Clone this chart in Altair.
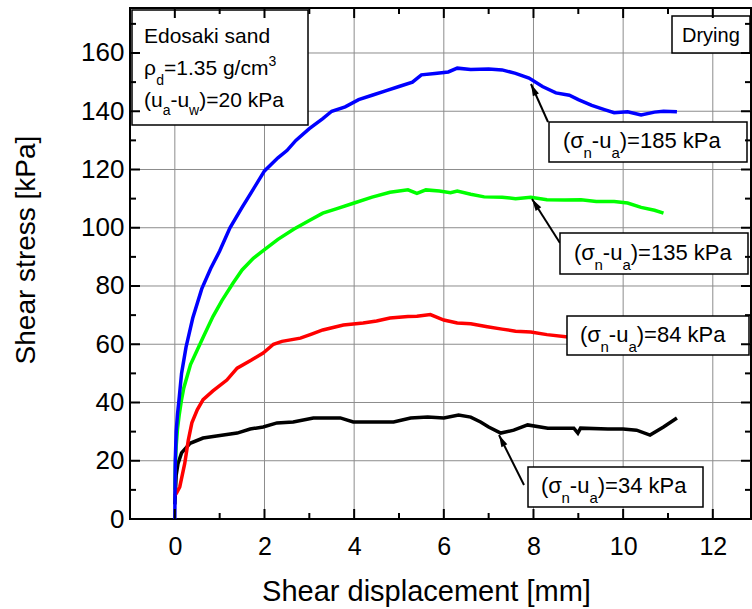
import math
import altair as alt
import pandas as pd

# ---------------- data ----------------
blue_x = [0, 0.005, 0.01, 0.03, 0.06, 0.1, 0.15, 0.25, 0.4, 0.6, 0.8, 1.0, 1.23, 1.5, 1.7, 2.0,
          2.3, 2.5, 2.7, 3.0, 3.3, 3.5, 3.8, 4.1, 4.4, 4.7, 5.0, 5.3, 5.5, 5.8, 6.1, 6.3, 6.6, 7.0,
          7.3, 7.6, 7.9, 8.2, 8.5, 8.8, 9.0, 9.3, 9.6, 9.8, 10.1, 10.4, 10.7, 10.9, 11.2]
blue_y = [0, 12, 20, 30, 36, 42, 50, 59, 69, 79, 86, 92, 100, 107, 112, 119.5,
          124, 126.5, 130, 134, 137.5, 140, 141.5, 144, 145.5, 147, 148.5, 150, 152.5, 153, 153.5, 154.8, 154.3, 154.5,
          154.2, 153, 151.4, 148.5, 146.3, 145.5, 144, 142, 140.5, 139.5, 139.8, 138.7, 139.7, 140, 139.8]

green_x = [0, 0.01, 0.03, 0.06, 0.1, 0.15, 0.2, 0.35, 0.5, 0.65, 0.85, 1.05, 1.3, 1.5, 1.75, 2.0,
           2.3, 2.65, 3.0, 3.3, 3.6, 4.0, 4.4, 4.8, 5.2, 5.4, 5.6, 5.9, 6.15, 6.3, 6.6, 6.9, 7.3,
           7.6, 7.94, 8.3, 8.7, 9.06, 9.4, 9.8, 10.1, 10.4, 10.7, 10.9]
green_y = [10, 18, 25, 31, 36, 41, 45, 53, 58, 63, 69.5, 75, 81, 85.5, 89.5, 92.5,
           96, 99.5, 102.5, 105, 106.5, 108.5, 110.5, 112.2, 113, 111.8, 113, 112.6, 112, 112.6, 111.5, 110.6, 110.5,
           110, 110.5, 109.6, 109.5, 109.6, 109, 109, 108.5, 107, 106, 105]

red_x = [0, 0.04, 0.11, 0.22, 0.3, 0.38, 0.5, 0.63, 0.85, 1.16, 1.39, 1.7, 1.97, 2.2, 2.39, 2.8,
         3.05, 3.3, 3.76, 4.2, 4.5, 4.8, 5.2, 5.4, 5.7, 6.0, 6.3, 6.6, 6.97, 7.3, 7.6, 7.94, 8.3, 8.77]
red_y = [8, 9, 11, 19, 27, 33, 37.5, 41, 44, 47.7, 51.8, 54.5, 57, 60, 61, 62.1,
         63.5, 64.9, 66.6, 67.3, 68, 69, 69.5, 69.6, 70.2, 68.3, 67.3, 67, 66, 65.2, 64.5, 64.2, 63.3, 62.5]

black_x = [0, 0.03, 0.07, 0.15, 0.34, 0.63, 0.93, 1.39, 1.68, 1.97, 2.28, 2.64, 3.09, 3.69, 3.98,
           4.52, 4.88, 5.26, 5.64, 6.0, 6.33, 6.6, 6.82, 7.0, 7.27, 7.56, 7.87, 8.32, 8.9, 8.99,
           9.05, 9.66, 10.0, 10.3, 10.6, 10.9, 11.2]
black_y = [5, 15, 19, 22.7, 26, 27.8, 28.5, 29.5, 30.9, 31.6, 33, 33.3, 34.7, 34.7, 33.3,
           33.3, 33.3, 34.7, 35, 34.7, 35.7, 35, 33.3, 31.6, 29.5, 30.5, 32.3, 31.2, 31.2, 29.5,
           31.2, 30.9, 30.9, 30.5, 28.8, 31.6, 34.7]

x_major = [0, 2, 4, 6, 8, 10, 12]
x_minor = [1, 3, 5, 7, 9, 11]
y_major = [20, 40, 60, 80, 100, 120, 140, 160]
y_minor = [10, 30, 50, 70, 90, 110, 130, 150, 170]
y_labels = [0, 20, 40, 60, 80, 100, 120, 140, 160]

# ---------------- geometry ----------------
W, H = 621, 511
LEFT, TOP = 130, 8
XMIN, XMAX = -1.0, 12.852
YMIN, YMAX = 0.0, 175.45
FONT = "Liberation Sans"


def px2x(px):
    return XMIN + (px - LEFT) * (XMAX - XMIN) / W


def py2y(py):
    return YMIN + (TOP + H - py) * (YMAX - YMIN) / H


xs = alt.Scale(domain=[XMIN, XMAX], nice=False, zero=False)
ys = alt.Scale(domain=[YMIN, YMAX], nice=False, zero=False)

XAX = alt.Axis(
    values=x_major, grid=False, ticks=False, tickSize=0, domain=False, format="d",
    labelFont=FONT, labelFontSize=25, labelColor="black", labelPadding=15,
    labelFlush=False, labelOverlap=False,
    title="Shear displacement [mm]", titleFont=FONT, titleFontSize=29,
    titleFontWeight="normal", titleColor="black", titleX=296, titleY=81,
    titleAlign="center", titleBaseline="alphabetic")
YAX = alt.Axis(
    values=y_labels, grid=False, ticks=False, tickSize=0, domain=False, format="d",
    labelFont=FONT, labelFontSize=26, labelColor="black", labelPadding=6,
    labelFlush=False, labelOverlap=False,
    title="Shear stress [kPa]", titleFont=FONT, titleFontSize=28,
    titleFontWeight="normal", titleColor="black", titleX=-96, titleY=241.5,
    titleAngle=270, titleAlign="center", titleBaseline="alphabetic")


def X(field):
    return alt.X(field, scale=xs, axis=XAX, title="Shear displacement [mm]")


def Y(field):
    return alt.Y(field, scale=ys, axis=YAX, title="Shear stress [kPa]")


# text width table (Arial metrics, em)
WID = {'(': .333, ')': .333, '-': .333, '=': .584, '.': .278, ' ': .278, '/': .278,
       'a': .556, 'c': .5, 'd': .556, 'g': .556, 'k': .5, 'm': .833, 'n': .556, 'u': .556,
       'w': .722, 'P': .667, 'E': .667, 'o': .556, 's': .5, 'i': .222, 'D': .722, 'r': .333,
       'y': .5, 'σ': .6, 'ρ': .58}
for d in "0123456789":
    WID[d] = .556


def tw(s, fs):
    return sum(WID.get(c, .556) for c in s) * fs


def layout(segs, left, base, fs, sfs, sub_dy, sup_dy=-9):
    rows = []
    cx = left
    for t, kind in segs:
        size = fs if kind == 'n' else sfs
        dy = 0 if kind == 'n' else (sub_dy if kind == 'sub' else sup_dy)
        rows.append(dict(x=px2x(cx), y=py2y(base + dy), text=t, fs=size))
        cx += tw(t, size)
    return rows


def label_segs(val):
    return [("(σ", 'n'), ("n", 'sub'), ("-u", 'n'), ("a", 'sub'), (f")={val} kPa", 'n')]


text_rows = []
text_rows += layout([("Edosaki sand", 'n')], 144, 43, 21, 14, 8)
text_rows += layout([("ρ", 'n'), ("d", 'sub'), ("=1.35 g/cm", 'n'), ("3", 'sup')], 144, 75, 21, 14, 10)
text_rows += layout([("(u", 'n'), ("a", 'sub'), ("-u", 'n'), ("w", 'sub'), (")=20 kPa", 'n')], 144, 107, 21, 14, 8)
text_rows += layout([("Drying", 'n')], 682, 42, 20, 14, 8)
text_rows += layout(label_segs(185), 563, 148, 22, 15, 10)
text_rows += layout(label_segs(135), 574, 259.5, 22, 15, 10)
text_rows += layout(label_segs(84), 580, 341.5, 22, 15, 10)
text_rows += layout(label_segs(34), 541, 493, 22, 15, 10)
texts = pd.DataFrame(text_rows)

boxes_px = [(132, 308, 10, 125), (672, 750, 16, 53), (549, 747, 122, 162),
            (560, 748, 233, 274), (567, 749, 316, 355), (528, 703, 467, 507)]
boxes = pd.DataFrame([dict(x=px2x(a), x2=px2x(b), y=py2y(c), y2=py2y(d)) for a, b, c, d in boxes_px])

arrows_px = [((548, 122), (531, 84)), ((560, 243), (532, 199)), ((524, 485), (499, 435))]
arr_rows, head_rows = [], []
for (tx, ty), (hx, hy) in arrows_px:
    ang = math.degrees(math.atan2(hx - tx, -(hy - ty))) % 360
    arr_rows.append(dict(x=px2x(tx), y=py2y(ty), x2=px2x(hx), y2=py2y(hy)))
    head_rows.append(dict(x=px2x(hx), y=py2y(hy), ang=ang))
arrows = pd.DataFrame(arr_rows)
heads = pd.DataFrame(head_rows)

# grid at the major ticks: thin solid grey lines (tone of the dotted grid)
GRID = dict(color="#8c8c8c", strokeWidth=1)
layers = [
    alt.Chart(pd.DataFrame({"x": x_major})).mark_rule(**GRID).encode(
        x=X("x:Q"), y=alt.value(0), y2=alt.value(H)),
    alt.Chart(pd.DataFrame({"y": y_major})).mark_rule(**GRID).encode(
        y=Y("y:Q"), x=alt.value(0), x2=alt.value(W)),
]


# ---------------- curves ----------------
def curve(xv, yv, color):
    df = pd.DataFrame({"x": xv, "y": yv, "i": range(len(xv))})
    return alt.Chart(df).mark_line(color=color, strokeWidth=3.5, clip=True).encode(
        x=X("x:Q"), y=Y("y:Q"), order="i:Q")


layers += [
    curve(black_x, black_y, "#000000"),
    curve(red_x, red_y, "#ff0000"),
    curve(green_x, green_y, "#00ff00"),
    curve(blue_x, blue_y, "#0000ff"),
]

# arrows
layers.append(alt.Chart(arrows).mark_rule(color="black", strokeWidth=2).encode(
    x=X("x:Q"), y=Y("y:Q"), x2="x2:Q", y2="y2:Q"))
layers.append(alt.Chart(heads).mark_point(
    shape="M0,0L-0.55,2L0.55,2Z", filled=True, color="black", size=144, opacity=1).encode(
    x=X("x:Q"), y=Y("y:Q"), angle=alt.Angle("ang:Q", scale=None)))

# boxes and texts
layers.append(alt.Chart(boxes).mark_rect(fill="white", stroke="black", strokeWidth=1.5).encode(
    x=X("x:Q"), x2="x2:Q", y=Y("y:Q"), y2="y2:Q"))
layers.append(alt.Chart(texts).mark_text(align="left", baseline="alphabetic", font=FONT,
                                         color="black").encode(
    x=X("x:Q"), y=Y("y:Q"), text="text:N", size=alt.Size("fs:Q", scale=None)))


# inward ticks (frame on four sides)
def vticks(vals, y0, y1):
    return alt.Chart(pd.DataFrame({"x": vals})).mark_rule(color="black", strokeWidth=2).encode(
        x=X("x:Q"), y=alt.value(y0), y2=alt.value(y1))


def hticks(vals, x0, x1):
    return alt.Chart(pd.DataFrame({"y": vals})).mark_rule(color="black", strokeWidth=2).encode(
        y=Y("y:Q"), x=alt.value(x0), x2=alt.value(x1))


layers += [
    vticks(x_major, H, H - 10), vticks(x_minor, H, H - 6),
    vticks(x_major, 0, 10), vticks(x_minor, 0, 6),
    hticks(y_major, 0, 10), hticks(y_minor, 0, 6),
    hticks(y_major, W, W - 10), hticks(y_minor, W, W - 6),
]

chart = alt.layer(*layers).properties(
    width=W, height=H,
    padding={"left": LEFT, "top": TOP, "right": 752 - LEFT - W, "bottom": 609 - TOP - H},
    autosize=alt.AutoSizeParams(type="none"),
    background="white",
).configure_view(stroke="black", strokeWidth=2)

chart.save("out.html", embed_options={"renderer": "svg", "actions": False})
